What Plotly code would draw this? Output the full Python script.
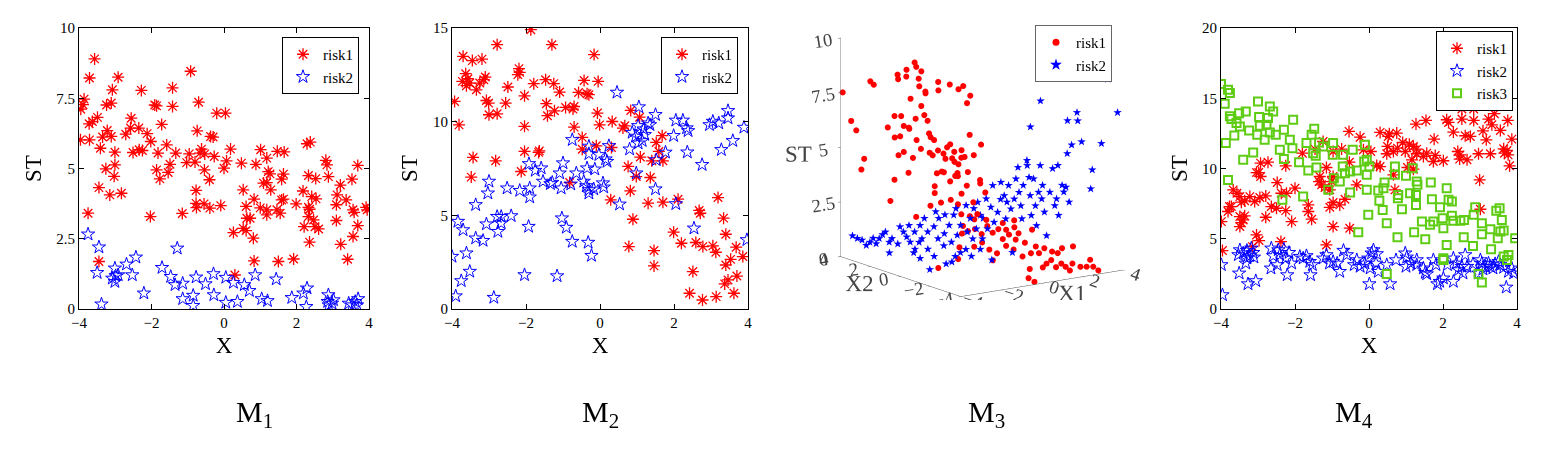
import plotly.graph_objects as go

## Data
# ============================================================================
# M1: (x, ST)
m1_risk1 = [
    (-3.57, 8.9), (-3.71, 8.22), (-2.92, 8.25), (-0.92, 8.46), (-3.08, 7.8), (-2.28, 7.78),
    (-1.42, 7.87), (-3.86, 7.47), (-3.95, 7.11), (-3.89, 7.27), (-3.24, 7.26), (-3.11, 7.33),
    (-1.91, 7.26), (-1.86, 7.23), (-1.42, 7.21), (-0.70, 7.36), (-0.20, 6.97), (0.04, 6.97),
    (-3.49, 6.82), (-3.72, 6.59), (-3.63, 6.67), (-2.56, 6.79), (-1.72, 6.57), (-3.22, 6.35),
    (-2.71, 6.22), (-2.58, 6.44), (-2.35, 6.44), (-2.12, 6.24), (-0.74, 6.34), (-0.37, 6.14),
    (-0.30, 6.12), (-3.96, 6.02), (-3.71, 6.02), (-3.35, 6.12), (-3.11, 6.14), (-2.02, 5.96),
    (-3.41, 5.72), (-3.01, 5.58), (-2.51, 5.57), (-2.34, 5.67), (-2.25, 5.64), (-1.82, 5.55),
    (-1.58, 5.84), (-1.33, 5.55), (-0.96, 5.52), (-0.66, 5.55), (-0.62, 5.69), (-0.53, 5.52),
    (-0.27, 5.43), (0.18, 5.69), (1.01, 5.67), (1.47, 5.61), (1.66, 5.59), (2.29, 5.88),
    (2.38, 5.94), (2.81, 5.29), (2.84, 5.13), (3.69, 5.11), (-3.01, 5.13), (-3.26, 4.99),
    (-3.03, 4.72), (-3.45, 4.32), (-3.15, 4.06), (-2.83, 4.12), (-1.86, 4.95), (-1.77, 4.63),
    (-1.49, 5.15), (-1.54, 4.86), (-1.03, 5.21), (-0.80, 5.23), (-0.54, 4.95), (-0.40, 4.60),
    (0.0, 5.01), (0.07, 5.27), (0.48, 5.19), (0.88, 5.15), (1.18, 5.37), (1.22, 4.89),
    (1.27, 4.81), (1.09, 4.48), (1.18, 4.50), (1.29, 4.24), (1.64, 4.80), (1.59, 4.62),
    (2.33, 4.75), (2.53, 4.64), (2.88, 4.71), (3.53, 4.62), (0.53, 4.24), (2.18, 4.20),
    (3.21, 4.41), (-0.77, 4.22), (-0.77, 3.76), (-0.76, 3.61), (-0.55, 3.74), (-0.39, 3.59),
    (-0.09, 3.68), (0.83, 3.91), (0.61, 3.65), (1.0, 3.60), (1.18, 3.53), (1.18, 3.35),
    (1.46, 3.53), (1.55, 3.41), (1.59, 3.88), (1.64, 3.91), (1.99, 3.74), (2.33, 3.62),
    (2.36, 3.55), (2.42, 4.0), (2.54, 3.92), (3.12, 4.06), (3.10, 3.71), (3.37, 3.88),
    (3.56, 3.53), (3.59, 3.44), (3.92, 3.62), (3.95, 3.53), (3.10, 3.15), (2.33, 3.29),
    (2.47, 3.17), (2.51, 2.93), (2.61, 2.85), (2.21, 2.93), (0.63, 3.23), (0.72, 3.23),
    (0.53, 2.87), (0.61, 2.79), (0.26, 2.72), (0.81, 2.52), (3.69, 2.97), (3.56, 2.58),
    (2.36, 2.38), (3.22, 2.30), (-3.75, 3.41), (-2.03, 3.29), (-1.15, 3.40), (-3.45, 1.69),
    (0.83, 1.71), (1.50, 1.69), (1.92, 1.78), (3.41, 1.77), (0.30, 1.21),
]
m1_risk2 = [
    (-3.75, 2.66), (-3.45, 2.20), (-1.29, 2.16), (-3.50, 1.29), (-3.08, 1.09), (-3.01, 1.45),
    (-2.99, 1.18), (-2.92, 1.21), (-3.01, 0.97), (-2.69, 1.59), (-2.53, 1.21), (-2.43, 1.84),
    (-2.21, 0.56), (-1.71, 1.47), (-1.47, 1.15), (-1.35, 0.86), (-1.14, 0.91), (-1.14, 0.36),
    (-0.85, 0.48), (-0.85, 0.12), (-0.77, 1.13), (-0.51, 0.89), (-0.29, 1.25), (-0.28, 0.50),
    (0.05, 1.12), (0.05, 0.23), (0.26, 0.94), (0.37, 0.26), (0.56, 0.86), (0.70, 0.65),
    (0.86, 1.21), (1.04, 0.36), (1.20, 0.29), (1.44, 1.06), (1.87, 0.40), (2.19, 0.56),
    (2.29, 0.74), (2.27, 0.08), (-3.38, 0.17), (2.88, 0.50), (2.86, 0.26), (2.98, 0.20),
    (3.02, 0.32), (2.89, 0.14), (3.44, 0.20), (3.53, 0.14), (3.62, 0.26), (3.70, 0.36),
    (3.67, 0.14),
]

# M2: (x, ST)
m2_risk1 = [
    (-1.87, 14.91), (-2.78, 14.11), (-1.30, 14.11), (-0.16, 13.58), (-3.70, 13.49), (-3.45, 13.26),
    (-3.19, 13.34), (-3.63, 12.56), (-3.72, 12.15), (-3.57, 12.29), (-3.52, 12.06), (-3.61, 11.92),
    (-3.34, 11.70), (-3.14, 12.24), (-3.10, 12.38), (-3.25, 12.06), (-2.19, 12.83), (-2.22, 12.51),
    (-2.17, 12.63), (-1.47, 12.24), (-1.25, 12.03), (-1.79, 12.03), (-2.49, 11.85), (-2.04, 11.38),
    (-1.09, 11.58), (-0.43, 12.20), (-0.05, 12.15), (-0.58, 11.56), (-0.35, 11.49), (-0.30, 11.44),
    (-3.93, 11.08), (-3.07, 11.13), (-3.01, 10.99), (-2.55, 10.99), (-1.45, 10.96), (-1.23, 10.58),
    (-1.42, 10.32), (-3.0, 10.37), (-2.78, 10.42), (-0.93, 10.76), (-0.70, 10.81), (-0.73, 10.67),
    (-0.07, 10.46), (-0.01, 9.83), (0.33, 10.01), (0.83, 10.60), (1.07, 10.24), (0.67, 9.78),
    (0.62, 9.66), (-3.81, 9.83), (-2.04, 9.75), (-0.70, 9.71), (-0.48, 9.16), (-0.10, 8.71),
    (-0.48, 8.53), (0.31, 8.62), (-2.04, 8.41), (-1.66, 8.36), (-1.64, 8.44), (-3.43, 8.09),
    (-2.82, 7.91), (1.09, 8.11), (1.52, 8.89), (1.59, 8.41), (1.70, 7.91), (1.68, 9.25),
    (1.40, 7.91), (0.76, 7.61), (-2.13, 7.34), (-3.48, 7.04), (-0.82, 6.75), (0.98, 7.07),
    (1.36, 7.02), (0.82, 6.31), (0.29, 5.83), (1.30, 5.65), (1.70, 5.70), (2.11, 5.86),
    (3.19, 5.95), (2.68, 5.26), (2.71, 5.11), (0.89, 4.79), (3.34, 4.85), (3.40, 3.99),
    (1.99, 4.10), (2.20, 3.51), (2.59, 3.55), (2.78, 3.33), (3.05, 3.37), (3.13, 3.03),
    (3.68, 3.30), (3.86, 2.80), (0.78, 3.33), (1.46, 3.12), (1.46, 2.30), (3.53, 2.65),
    (3.40, 2.35), (3.70, 1.76), (3.46, 1.55), (3.37, 1.34), (2.51, 2.0), (2.42, 0.84),
    (2.77, 0.48), (3.14, 0.66), (3.62, 0.84),
]
m2_risk2 = [
    (0.46, 11.56), (1.05, 10.78), (3.46, 10.58), (3.46, 10.19), (1.50, 10.37), (2.05, 10.07),
    (2.24, 10.07), (3.05, 10.01), (3.21, 9.92), (2.34, 9.66), (2.38, 9.51), (2.96, 9.83),
    (3.89, 9.69), (3.59, 8.98), (1.99, 9.25), (1.03, 9.78), (1.30, 9.92), (1.35, 9.83),
    (1.18, 9.60), (0.87, 9.42), (0.96, 9.21), (1.03, 8.85), (1.14, 8.98), (1.21, 9.30),
    (0.80, 8.53), (0.24, 8.71), (-0.03, 8.23), (-0.75, 9.03), (-0.30, 8.68), (-0.30, 8.28),
    (0.15, 8.0), (0.19, 7.87), (1.52, 7.96), (1.77, 8.36), (2.36, 8.37), (3.28, 8.50),
    (2.76, 7.70), (0.98, 7.25), (1.50, 6.40), (0.53, 5.59), (2.05, 5.61), (2.54, 4.31),
    (3.97, 3.69), (-1.0, 7.79), (-1.09, 7.25), (-0.64, 7.25), (-0.14, 7.46), (-0.35, 7.52),
    (-1.92, 7.75), (-1.75, 7.39), (-1.59, 7.52), (-1.54, 6.81), (-1.34, 6.68), (-1.29, 6.75),
    (-1.05, 6.45), (-0.79, 6.66), (-0.44, 6.81), (-0.37, 6.57), (-0.30, 6.36), (-0.30, 6.18),
    (-0.17, 6.40), (0.08, 6.72), (0.10, 6.50), (-3.0, 6.81), (-3.03, 6.18), (-2.51, 6.45),
    (-2.17, 6.32), (-1.90, 6.45), (-1.90, 5.97), (-3.36, 5.56), (-3.84, 4.67), (-3.70, 4.22),
    (-3.07, 4.53), (-2.78, 4.93), (-2.67, 4.93), (-2.67, 4.58), (-2.76, 4.13), (-2.40, 4.97),
    (-1.93, 4.40), (-1.03, 4.85), (-0.91, 4.35), (-0.75, 3.60), (-0.32, 3.55), (-0.23, 2.85),
    (-3.36, 3.78), (-3.16, 3.65), (-3.61, 2.98), (-4.0, 2.80), (-3.52, 2.0), (-3.75, 1.50),
    (-3.90, 0.69), (-2.04, 1.82), (-1.16, 1.76), (-2.87, 0.61),
]

# M3: (X1, X2, ST)
m3_risk1 = [
    (-3.9, 4, 7.5), (-3.85, 3.5, 6.3), (-3.97, 3, 6.0), (-3.35, 3.5, 4.0), (-2.84, 4, 4.3),
    (-3.85, 2, 8.3), (-2.54, 4, 7.8), (-3.77, 1, 3.2), (-2.42, 3, 5.9), (-3.19, 1.5, 5.9),
    (-2.83, 2, 3.8), (-3.74, 0.5, 5.4), (-1.72, 3.5, 6.2), (-2.28, 2.5, 8.2), (-3.24, 1, 7.0),
    (-3.48, 0.5, 6.7), (-1.2, 4, 7.9), (-2.62, 1.5, 8.6), (-1.81, 3, 5.4), (-2.37, 2, 5.0),
    (-3.58, 0, 6.7), (-1.5, 3, 8.4), (-1.75, 2.5, 5.9), (-2.66, 1, 5.0), (-3.59, -0.5, 6.3),
    (-1.03, 3.5, 3.5), (-2.87, 0.5, 2.45), (-2.16, 1.5, 6.6), (-0.56, 4, 6.7), (-1.76, 2, 8.8),
    (-2.72, 0.5, 8.4), (-0.73, 3.5, 8.5), (-2.25, 1, 8.9), (-0.9, 3, 7.9), (-2.78, 0, 8.2),
    (-1.14, 2.5, 6.8), (-3.05, -0.5, 7.1), (-1.73, 1.5, 6.7), (-0.42, 3.5, 4.5), (-3.27, -1, 6.5),
    (-1.31, 2, 7.6), (-1.87, 1, 6.0), (-2.36, 0, 6.0), (-0.73, 2.5, 4.6), (-2.96, -1, 4.8),
    (-1.32, 1.5, 4.8), (-1.96, 0.5, 3.4), (-0.32, 3, 2.0), (-2.53, -0.5, 8.8), (-3.13, -1.5, 3.6),
    (-0.85, 2, 3.2), (-1.41, 1, 7.9), (-1.98, 0, 4.5), (-2.54, -1, 5.4), (0.42, 3.5, 4.3),
    (-0.79, 1.5, 4.8), (-2.68, -1.5, 4.5), (-1.35, 0.5, 5.4), (-0.03, 2.5, 3.6), (-1.84, -0.5, 5.2),
    (-0.8, 1, 2.8), (-2.69, -2, 5.0), (-0.09, 2, 5.0), (-1.32, 0, 4.2), (0.63, 3, 7.4),
    (-1.9, -1, 5.05), (-0.26, 1.5, 4.8), (-2.13, -1.5, 5.5), (-0.82, 0.5, 4.0), (0.49, 2.5, 4.0),
    (-0.42, 1, 7.8), (-1.38, -0.5, 5.5), (-1.02, 0, 2.4), (0.29, 2, 2.2), (-2.23, -2, 4.35),
    (-0.27, 1, 3.0), (-0.86, 0, 5.0), (0.92, 2.5, 7.4), (-1.32, -1, 8.1), (0.0, 1, 7.1),
    (-0.24, 0.5, 5.8), (-1.17, -1, 3.2), (0.78, 2, 3.6), (-1.34, -1.5, 2.8), (0.7, 1.5, 4.5),
    (-0.47, -0.5, 4.0), (0.28, 0.5, 3.5), (-1.32, -2, 3.9), (0.69, 1, 5.1),
    (-2.55, -0.54, 0.3), (-1.44, -0.36, 0.5), (-1.32, -0.28, 1.0), (-0.96, 0.04, 1.5),
    (-0.17, 1.04, 1.5), (-0.06, 0.73, 2.0), (0.56, 1.7, 1.0), (-0.34, 0.06, 0.8), (0.21, 0.8, 1.8),
    (0.57, 1.24, 1.2), (0.72, 1.0, 1.0), (0.78, 1.05, 0.6), (0.12, -0.12, 2.0), (0.62, 0.49, 1.5),
    (0.52, 0.22, 0.5), (0.01, -0.7, 0.3), (0.79, 0.36, 1.2), (0.41, -0.44, 0.5), (1.11, 0.42, 1.3),
    (0.79, -0.31, 1.8), (1.36, 0.46, 0.8), (0.88, -0.41, 1.5), (1.45, 0.36, 0.5), (1.14, -0.25, 1.2),
    (0.31, -1.73, 2.0), (0.56, -1.38, 2.2), (1.33, -0.3, 0.5), (1.3, -0.48, 1.0), (0.93, -1.17, 1.5),
    (1.37, -0.84, 0.3), (0.07, -3.0, 0), (1.73, -0.51, 0.8), (0.8, -2.09, 0.1), (-0.1, -3.62, 0),
    (1.54, -1.17, 0.5), (1.74, -0.97, 1.5), (1.71, -1.26, 0.8), (1.81, -1.34, 0.5), (1.17, -2.46, 0.2),
    (1.82, -1.68, 0.8), (1.67, -2.03, 0.2), (1.96, -1.95, 0.3), (2.18, -1.71, 0.6), (1.85, -2.42, 0.1),
    (2.43, -1.75, 0.5), (2.16, -2.35, 0.2), (2.41, -2.06, 0.8), (2.42, -2.29, 0), (2.19, -2.88, 0),
    (2.53, -2.59, 0.2), (2.95, -2.06, 0.8), (2.91, -2.61, 0), (3.12, -2.74, 0), (3.49, -2.47, 0.2),
    (3.34, -2.88, 0), (3.14, -3.49, 0),
]
m3_risk2 = [
    (-3.42, 4.0, 0.2), (-3.52, 3.54, 0.2), (-3.31, 3.51, 0.1), (-3.48, 3.0, 0), (-3.48, 2.76, 0.2),
    (-3.41, 2.64, 0.4), (-3.21, 2.71, 0.1), (-3.03, 2.75, 0.3), (-2.96, 2.62, 0.5), (-2.82, 2.62, 0.6),
    (-3.46, 1.49, 0), (-2.84, 2.34, 0.2), (-2.6, 2.48, 0.3), (-2.73, 1.92, 0.2), (-2.26, 2.41, 0.8),
    (-2.22, 2.23, 0.6), (-2.18, 2.07, 0.4), (-2.26, 1.81, 1.0), (-2.14, 1.89, 0.2), (-2.65, 0.97, 0),
    (-2.47, 1.13, 0.1), (-1.85, 1.99, 0.6), (-2.99, 0.08, 0), (-2.08, 1.38, 0.3), (-1.89, 1.57, 1.0),
    (-1.85, 1.5, 0.4), (-3.78, -1.63, 0), (-1.49, 1.83, 1.2), (-2.04, 0.85, 0.1), (-1.41, 1.71, 0.6),
    (-2.33, 0.04, 0), (-1.13, 1.68, 0.8), (-1.1, 1.6, 1.5), (-1.31, 1.16, 0.4), (-1.01, 1.52, 1.2),
    (-2.68, -1.23, 0), (-1.39, 0.67, 0.2), (-1.04, 1.11, 0.6), (-0.67, 1.57, 1.3), (-2.3, -1.1, 0),
    (-0.92, 0.95, 1.0), (-1.0, 0.69, 0.3), (-1.63, -0.42, 0), (-0.62, 1.05, 1.4), (-0.77, 0.7, 1.8),
    (-0.55, 0.91, 0.5), (-1.09, -0.03, 0), (-0.54, 0.7, 1.0), (-1.02, -0.3, 0.2), (-0.56, 0.31, 2.0),
    (-0.34, 0.53, 0.7), (-1.09, -0.76, 0), (-0.19, 0.53, 1.3), (-0.4, 0.08, 0.5), (-0.18, 0.31, 1.8),
    (-0.38, -0.13, 1.0), (-0.29, -0.1, 2.2), (-0.54, -0.61, 0.2), (0.02, 0.14, 1.5), (-0.08, -0.13, 0.5),
    (0.24, 0.25, 1.3), (-0.11, -0.42, 2.4), (-0.01, -0.37, 1.0), (-0.78, -1.7, 0), (0.08, -0.47, 2.0),
    (0.13, -0.53, 3.0), (0.21, -0.51, 1.3), (0.24, -0.71, 1.8), (-0.12, -1.39, 2.6), (0.28, -0.87, 3.2),
    (0.37, -0.97, 2.6), (0.5, -0.9, 1.5), (0.68, -0.73, 2.2), (0.66, -0.87, 3.0), (0.57, -1.14, 2.0),
    (0.64, -1.15, 0), (0.58, -1.35, 2.5), (0.68, -1.33, 3.4), (0.58, -1.6, 4.0), (0.75, -1.44, 2.8),
    (0.78, -1.52, 2.2), (1.04, -1.24, 1.5), (1.15, -1.18, 3.0), (1.08, -1.54, 4.0), (1.05, -1.7, 3.5),
    (1.23, -1.53, 2.6), (1.47, -1.28, 1.6), (1.27, -1.71, 3.4), (1.26, -1.84, 2.2), (1.5, -1.59, 1.2),
    (1.4, -1.86, 2.8), (1.51, -1.82, 4.0), (1.5, -1.94, 2.5), (1.79, -1.6, 3.0), (1.8, -1.71, 1.8),
    (1.7, -1.99, 0.8), (1.78, -2.1, 2.8), (2.05, -1.92, 3.8), (1.91, -2.25, 2.2), (1.99, -2.26, 2.5),
    (2.1, -2.2, 4.0), (2.38, -1.87, 1.6), (2.44, -2.02, 3.0), (2.48, -2.08, 2.7), (2.38, -2.36, 3.0),
    (2.52, -2.38, 2.3), (2.84, 0.63, 5.0), (2.5, -0.5, 6.5), (1.14, -1.44, 4.2), (2.5, -2.28, 4.5),
    (3.6, -0.81, 5.5), (2.85, -2.1, 4.8), (3.7, -1.36, 5.6), (3.64, -1.39, 6.0), (3.06, -2.48, 5.0),
    (3.03, -3.13, 3.0), (3.66, -2.38, 3.6), (3.54, -3.15, 5.0), (3.63, -3.45, 8.0), (3.89, -3.75, 6.5),
]

# M4: (x, ST)
m4_risk1 = [
    (2.09, 14.77), (3.05, 14.94), (2.51, 14.23), (2.83, 14.23), (3.39, 13.90), (1.54, 13.42),
    (1.27, 13.16), (2.10, 13.47), (2.15, 13.28), (2.51, 13.52), (2.83, 13.42), (3.23, 13.52),
    (3.32, 13.11), (3.75, 13.42), (3.55, 12.71), (2.28, 12.59), (2.60, 12.33), (2.74, 12.28),
    (3.08, 12.68), (3.17, 12.04), (-0.54, 12.64), (-0.24, 12.23), (0.30, 12.57), (0.55, 12.47),
    (0.75, 12.52), (0.52, 12.28), (1.76, 12.09), (0.91, 11.85), (1.09, 11.73), (1.20, 11.57),
    (1.29, 11.38), (3.86, 12.09), (3.64, 11.40), (3.76, 10.97), (3.66, 11.09), (3.73, 11.28),
    (3.80, 10.19), (3.28, 11.05), (2.96, 11.05), (2.40, 11.21), (2.46, 10.97), (2.45, 10.67),
    (2.65, 10.62), (2.01, 10.55), (1.79, 10.93), (1.74, 10.50), (1.56, 11.09), (1.47, 10.86),
    (1.29, 11.05), (1.16, 10.62), (0.98, 11.21), (0.77, 11.45), (0.66, 11.21), (0.48, 11.05),
    (0.50, 11.57), (0.05, 11.21), (-0.15, 11.33), (-0.74, 11.38), (-0.97, 11.21), (-1.24, 11.92),
    (-1.46, 11.38), (-1.80, 11.09), (0.21, 10.21), (0.30, 10.14), (1.04, 10.07), (1.20, 9.95),
    (-0.53, 10.45), (-1.15, 10.07), (-0.97, 9.43), (-1.01, 9.07), (-1.33, 9.43), (-1.35, 9.07),
    (-1.28, 8.84), (-1.19, 8.65), (-1.06, 8.48), (-0.33, 8.84), (0.66, 9.55), (0.70, 8.48),
    (-2.93, 10.38), (-2.73, 10.45), (-2.25, 10.19), (-3.04, 9.71), (-2.93, 9.43), (-2.98, 9.71),
    (-2.48, 9.0), (-2.0, 8.60), (-2.23, 8.24), (-2.37, 8.24), (-3.67, 8.48), (-3.57, 8.24),
    (-3.49, 8.0), (-3.36, 7.70), (-3.45, 7.60), (-3.09, 7.65), (-3.22, 8.0), (-2.95, 7.93),
    (-2.79, 8.05), (-2.64, 7.29), (-2.50, 7.17), (-2.25, 7.0), (-3.77, 7.29), (-3.81, 6.94),
    (-3.72, 7.29), (-3.99, 6.22), (-3.49, 6.58), (-3.40, 6.34), (-3.36, 6.63), (-3.45, 6.15),
    (-3.49, 5.87), (-2.79, 6.53), (-2.09, 6.22), (-1.64, 7.41), (-1.64, 6.94), (-1.55, 6.39),
    (-1.06, 7.24), (-0.97, 7.58), (-0.79, 7.41), (-0.65, 7.81), (-0.97, 5.87), (-0.52, 5.75),
    (-3.04, 5.27), (-2.97, 4.87), (-3.15, 4.44), (-2.38, 4.80), (-1.15, 4.56), (-3.96, 4.16),
    (2.99, 9.19), (3.01, 7.10),
]
m4_risk2 = [
    (-3.96, 1.0), (-3.99, 3.14), (-3.49, 4.20), (-3.53, 3.85), (-3.40, 3.97), (-3.30, 4.16),
    (-3.30, 3.61), (-3.22, 3.78), (-3.13, 4.01), (-3.11, 3.68), (-3.18, 4.32), (-3.33, 3.25),
    (-3.51, 2.54), (-3.27, 1.78), (-3.06, 2.0), (-2.64, 4.32), (-2.59, 3.78), (-2.65, 2.90),
    (-2.45, 4.20), (-2.41, 3.85), (-2.48, 3.14), (-2.30, 4.25), (-2.25, 3.61), (-2.21, 2.42),
    (-2.16, 4.01), (-2.09, 3.25), (-1.87, 3.73), (-1.78, 3.61), (-1.69, 3.78), (-1.60, 3.37),
    (-1.53, 3.14), (-1.58, 2.42), (-1.24, 3.61), (-1.15, 3.85), (-1.07, 3.25), (-0.97, 3.37),
    (-0.86, 3.25), (-0.79, 2.66), (-0.69, 4.16), (-0.60, 3.85), (-0.40, 3.14), (-0.33, 3.49),
    (-0.24, 3.02), (-0.11, 3.25), (-0.02, 3.61), (0.01, 1.78), (0.07, 3.97), (0.12, 4.20),
    (0.21, 3.92), (0.19, 3.25), (0.25, 2.66), (0.03, 2.90), (0.48, 3.14), (0.57, 1.78),
    (0.73, 3.49), (0.98, 3.97), (1.02, 3.68), (1.00, 3.02), (1.13, 3.25), (1.29, 3.49),
    (1.29, 3.14), (1.47, 2.90), (1.52, 2.59), (1.56, 2.49), (1.74, 3.49), (1.81, 3.14),
    (1.85, 1.78), (1.91, 1.95), (2.01, 2.19), (2.12, 3.14), (2.28, 3.61), (2.28, 1.95),
    (2.36, 3.25), (2.42, 2.78), (2.51, 3.02), (2.54, 2.54), (2.60, 3.85), (2.65, 3.02),
    (2.81, 3.21), (2.96, 2.54), (3.01, 3.49), (3.05, 3.25), (3.08, 2.83), (3.14, 3.02),
    (3.23, 3.25), (3.28, 3.02), (3.35, 2.90), (3.41, 3.21), (3.50, 3.37), (3.55, 3.14),
    (3.64, 2.95), (3.71, 1.54), (3.77, 2.66), (3.86, 2.90), (3.91, 2.54),
]
m4_risk3 = [
    (-4.0, 16.01), (-3.81, 15.61), (-3.76, 15.37), (-3.90, 14.61), (-3.76, 13.71), (-3.72, 13.52),
    (-3.58, 13.23), (-3.49, 12.99), (-3.33, 14.06), (-3.51, 13.94), (-3.87, 11.81), (-3.64, 12.35),
    (-3.24, 12.71), (-3.0, 14.77), (-2.97, 13.66), (-2.95, 13.04), (-3.02, 12.40), (-3.13, 11.14),
    (-3.40, 10.62), (-3.81, 9.19), (-2.68, 14.42), (-2.59, 14.06), (-2.73, 13.59), (-2.77, 13.11),
    (-2.68, 12.57), (-2.82, 12.04), (-2.52, 12.40), (-2.30, 12.76), (-2.05, 13.47), (-2.14, 12.04),
    (-2.07, 11.45), (-2.41, 11.33), (-2.30, 10.67), (-1.89, 10.45), (-1.69, 11.81), (-1.55, 12.40),
    (-1.48, 12.83), (-1.35, 11.85), (-1.24, 11.57), (-1.51, 11.09), (-1.44, 10.90), (-1.42, 10.07),
    (-1.64, 9.86), (-0.97, 11.81), (-0.98, 10.97), (-0.70, 10.97), (-0.71, 10.14), (-0.44, 11.33),
    (-0.95, 9.31), (-0.79, 9.07), (-0.65, 9.67), (-0.51, 9.79), (-0.51, 8.29), (-0.33, 9.86),
    (-0.11, 11.69), (-0.13, 10.50), (-0.06, 10.62), (0.01, 10.14), (-0.06, 9.55), (-0.06, 8.48),
    (-0.02, 6.70), (-0.29, 5.46), (-1.10, 8.48), (-1.78, 8.0), (-2.34, 7.77), (0.25, 8.43),
    (0.39, 8.60), (0.28, 7.70), (0.37, 7.05), (0.42, 9.0), (0.70, 10.14), (0.70, 9.55),
    (0.79, 8.12), (0.78, 7.89), (0.89, 7.10), (1.0, 9.48), (1.18, 10.02), (1.11, 8.24),
    (1.27, 8.12), (1.29, 9.07), (1.31, 8.84), (1.27, 7.41), (1.22, 5.46), (0.48, 6.10),
    (0.77, 5.11), (1.43, 6.22), (1.52, 4.96), (1.67, 9.0), (1.70, 7.81), (1.65, 5.99),
    (1.74, 6.22), (1.92, 7.24), (1.99, 6.46), (2.01, 5.75), (2.10, 8.60), (2.15, 7.77),
    (2.24, 7.65), (2.24, 6.63), (2.28, 6.29), (2.10, 4.56), (2.47, 6.29), (2.57, 6.34),
    (2.56, 5.11), (2.83, 6.70), (2.87, 7.24), (2.81, 4.49), (3.05, 6.10), (3.05, 5.32),
    (3.28, 5.68), (3.30, 4.25), (3.44, 7.0), (3.53, 7.17), (3.59, 6.34), (3.48, 5.04),
    (3.55, 5.51), (3.64, 5.58), (3.64, 3.73), (3.77, 3.85), (3.73, 3.49), (3.95, 5.04),
    (2.01, 3.61), (2.01, 3.49), (2.96, 2.49), (3.05, 1.88), (0.48, 2.49),
]

x_ticks = [-4, -2, 0, 2, 4]
st_ticks_m1 = [0, 2.5, 5, 7.5, 10]
st_ticks_m2 = [0, 5, 10, 15]
st_ticks_m4 = [0, 5, 10, 15, 20]
panel_titles = ['M<sub>1</sub>', 'M<sub>2</sub>', 'M<sub>3</sub>', 'M<sub>4</sub>']

## Styles
# ============================================================================
FONT = 'Liberation Serif'
RED, BLUE, GREEN = '#ff0000', '#0000ff', '#5fcc14'
W, H = 1552, 454
OFF = 8  # page margin of the html body


def px(v):
    return (v - OFF) / W


def py(v):
    return min(1.0, 1 - (v - OFF) / H)


def xcol(pairs):
    return [p[0] for p in pairs]


def ycol(pairs):
    return [p[1] for p in pairs]


def axis2d(dom, rng, ticks, title, standoff, anchor):
    return dict(
        domain=dom, range=rng, tickvals=ticks, anchor=anchor, automargin=False,
        showline=True, linecolor='black', linewidth=1, mirror='ticks',
        ticks='inside', ticklen=5, tickcolor='black',
        showgrid=False, zeroline=False,
        tickfont=dict(family=FONT, size=15, color='black'),
        title=dict(text=title, font=dict(family=FONT, size=23, color='black'), standoff=standoff),
    )


def star(pairs, axis_id, leg):
    return go.Scatter(
        x=xcol(pairs), y=ycol(pairs), mode='markers', name='risk2', legend=leg,
        xaxis='x' + axis_id, yaxis='y' + axis_id,
        marker=dict(symbol='star-open', size=10, color=BLUE, line=dict(color=BLUE, width=1)),
    )


def aster(pairs, axis_id, leg):
    return go.Scatter(
        x=xcol(pairs), y=ycol(pairs), mode='markers', name='risk1', legend=leg,
        xaxis='x' + axis_id, yaxis='y' + axis_id,
        marker=dict(symbol='asterisk-open', size=10, color=RED, line=dict(color=RED, width=1.3)),
    )


fig = go.Figure()

# M1
fig.add_trace(aster(m1_risk1, '', 'legend'))
fig.add_trace(star(m1_risk2, '', 'legend'))
# M2
fig.add_trace(aster(m2_risk1, '2', 'legend2'))
fig.add_trace(star(m2_risk2, '2', 'legend2'))
# M4
fig.add_trace(aster(m4_risk1, '3', 'legend4'))
fig.add_trace(star(m4_risk2, '3', 'legend4'))
fig.add_trace(go.Scatter(
    x=xcol(m4_risk3), y=ycol(m4_risk3), mode='markers', name='risk3', legend='legend4',
    xaxis='x3', yaxis='y3',
    marker=dict(symbol='square-open', size=8, color=GREEN, line=dict(color=GREEN, width=2)),
))

# M3 (3D)
fig.add_trace(go.Scatter3d(
    x=[p[0] for p in m3_risk1], y=[p[1] for p in m3_risk1], z=[p[2] for p in m3_risk1],
    mode='markers', showlegend=False, scene='scene',
    marker=dict(symbol='circle', size=3.5, color=RED, line=dict(width=0)),
))
fig.add_trace(go.Scatter3d(
    x=[p[0] for p in m3_risk2], y=[p[1] for p in m3_risk2], z=[p[2] for p in m3_risk2],
    mode='text', text=['\u2605'] * len(m3_risk2), showlegend=False, scene='scene',
    textfont=dict(family='DejaVu Sans', size=11, color=BLUE),
))
# legend entries for the 3D panel
fig.add_trace(go.Scatter(
    x=[None], y=[None], mode='markers', name='risk1', legend='legend3',
    xaxis='x', yaxis='y', marker=dict(symbol='circle', size=7, color=RED),
))
fig.add_trace(go.Scatter(
    x=[None], y=[None], mode='markers', name='risk2', legend='legend3',
    xaxis='x', yaxis='y', marker=dict(symbol='star', size=9, color=BLUE),
))

ydom = [py(309), py(28)]
legend_style = dict(
    xanchor='right', yanchor='top', bgcolor='white', bordercolor='black', borderwidth=1,
    font=dict(family=FONT, size=15, color='black'), tracegroupgap=0,
)
axis3d = dict(
    showgrid=False, showbackground=False, zeroline=False, showspikes=False,
    showline=True, linecolor='#555555', linewidth=1, ticks='outside', ticklen=3,
    tickcolor='#555555', tickfont=dict(family=FONT, size=15, color='#444444'),
)
title3d = dict(family=FONT, size=23, color='#444444')

fig.update_layout(
    width=W, height=H, margin=dict(l=0, r=0, t=0, b=0, autoexpand=False),
    paper_bgcolor='white', plot_bgcolor='white', showlegend=True,
    xaxis=axis2d([px(79), px(369)], [-4, 4], x_ticks, 'X', 6, 'y'),
    yaxis=axis2d(ydom, [0, 10], st_ticks_m1, 'ST', 8, 'x'),
    xaxis2=axis2d([px(452), px(748)], [-4, 4], x_ticks, 'X', 6, 'y2'),
    yaxis2=axis2d(ydom, [0, 15], st_ticks_m2, 'ST', 8, 'x2'),
    xaxis3=axis2d([px(1221), px(1517)], [-4, 4], x_ticks, 'X', 6, 'y3'),
    yaxis3=axis2d(ydom, [0, 20], st_ticks_m4, 'ST', 8, 'x3'),
    scene=dict(
        domain=dict(x=[px(760), px(1204)], y=[py(300), py(8)]),
        xaxis=dict(axis3d, title=dict(text='X1', font=title3d), range=[-4, 4], tickvals=x_ticks),
        yaxis=dict(axis3d, title=dict(text='X2', font=title3d), range=[-4, 4], tickvals=x_ticks),
        zaxis=dict(axis3d, title=dict(text='ST', font=title3d), range=[0, 10],
                   tickvals=st_ticks_m1, ticktext=['0', '2.5', '5', '7.5', '10']),
        aspectmode='manual', aspectratio=dict(x=1.36, y=1.435, z=1.54),
        camera=dict(eye=dict(x=-1.117, y=-1.594, z=0.467), up=dict(x=0, y=0, z=1),
                    center=dict(x=0, y=0, z=0), projection=dict(type='orthographic')),
    ),
    legend=dict(legend_style, x=px(359), y=py(37)),
    legend2=dict(legend_style, x=px(738), y=py(37)),
    legend3=dict(legend_style, x=px(1112), y=py(25), bordercolor='#666666'),
    legend4=dict(legend_style, x=px(1513), y=py(31)),
)

for cx, label in zip([234, 600, 986, 1375], panel_titles):
    fig.add_annotation(x=px(cx), y=py(435), xref='paper', yref='paper', text=label,
                       showarrow=False, font=dict(family=FONT, size=30, color='black'))

fig.write_html("out.html")
